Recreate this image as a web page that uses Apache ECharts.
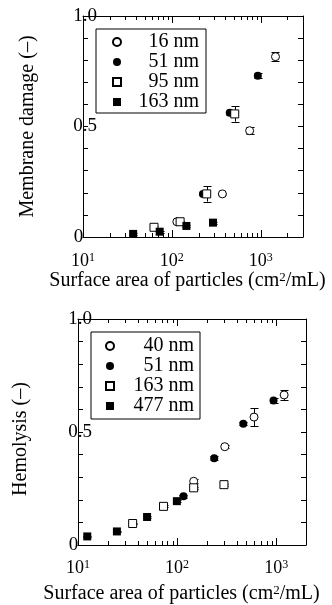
<!DOCTYPE html>
<html><head><meta charset="utf-8">
<script src="https://cdn.jsdelivr.net/npm/echarts@6/dist/echarts.min.js"></script>
<style>html,body{margin:0;padding:0;background:#fff}#c{width:332px;height:605px}</style>
</head><body><div id="c"></div>
<script>
// ---- Top panel: Membrane damage ----  [surface area, value, error]
const topNames = ['16 nm', '51 nm', '95 nm', '163 nm'];
const top16 = [[114, 0.069, 0.005], [371, 0.195, 0.006], [752, 0.481, 0.017], [1470, 0.816, 0.02]];
const top51 = [[224, 0.195, 0.006], [449, 0.562, 0.01], [930, 0.73, 0.01]];
const top95 = [[63, 0.044, 0.004], [124, 0.069, 0.005], [247, 0.195, 0.035], [511, 0.557, 0.035]];
const top163 = [[36.7, 0.014, 0.004], [73, 0.024, 0.004], [146, 0.05, 0.004], [291, 0.065, 0.004]];
// ---- Bottom panel: Hemolysis ----
const botNames = ['40 nm', '51 nm', '163 nm', '477 nm'];
const bot40 = [[147, 0.282, 0.008], [303, 0.435, 0.006], [598, 0.566, 0.04], [1203, 0.664, 0.022]];
const bot51 = [[116, 0.216, 0.006], [237, 0.384, 0.008], [466, 0.537, 0.008], [940, 0.639, 0.01]];
const bot163 = [[35.6, 0.095, 0.004], [73, 0.171, 0.004], [147, 0.253, 0.004], [297, 0.267, 0.004]];
const bot477 = [[12.4, 0.038, 0.004], [24.7, 0.06, 0.004], [49.8, 0.124, 0.004], [99.5, 0.194, 0.004]];
// axis ticks
const xTicksTop = [10, 20, 30, 40, 50, 60, 70, 80, 90, 100, 200, 300, 400, 500, 600, 700, 800, 900, 1000, 2000];
const xTicksBot = [10, 20, 30, 40, 50, 60, 70, 80, 90, 100, 200, 300, 400, 500, 600, 700, 800, 900, 1000];
const xRangeTop = [10, 3000];
const xRangeBot = [10, 2000];
const yRange = [0, 1];
const yLabelMap = [[0, '0'], [0.5, '0.5'], [1, '1.0']];

const FF = '"Liberation Serif", "Times New Roman", serif';
const BLK = '#000';
const ZW = '\u200b';

function xLabel(v) {
  const lg = Math.log10(v), r = Math.round(lg);
  if (Math.abs(lg - r) < 1e-6) return '{b|10}{s|' + r + '}';
  return '';
}
function yLabel(v) {
  for (const [val, txt] of yLabelMap) {
    if (Math.abs(v - val) < 1e-9) return val === 0 ? '{z|' + txt + '}' : '{b|' + txt + '}';
  }
  return '';
}
const px = v => Math.round(v) + 0.5;

function tickRender(params, api) {
  const v = api.value(0);
  const lg = Math.log10(v);
  const major = Math.abs(lg - Math.round(lg)) < 1e-6;
  const L = major ? 7 : 4;
  const b = api.coord([v, yRange[0]]);
  const t = api.coord([v, yRange[1]]);
  const x = px(b[0]);
  return {type: 'group', children: [
    {type: 'line', shape: {x1: x, y1: b[1], x2: x, y2: b[1] - L}, style: {stroke: BLK, lineWidth: 1}},
    {type: 'line', shape: {x1: x, y1: t[1], x2: x, y2: t[1] + L}, style: {stroke: BLK, lineWidth: 1}}
  ]};
}
function errRender(params, api) {
  const x = api.value(0), y = api.value(1), e = api.value(2);
  const a = api.coord([x, y + e]), b = api.coord([x, y - e]);
  const cx = px(a[0]), hw = 4;
  const st = {stroke: BLK, lineWidth: 1};
  return {type: 'group', children: [
    {type: 'line', shape: {x1: cx, y1: a[1], x2: cx, y2: b[1]}, style: st},
    {type: 'line', shape: {x1: cx - hw, y1: px(a[1]), x2: cx + hw, y2: px(a[1])}, style: st},
    {type: 'line', shape: {x1: cx - hw, y1: px(b[1]), x2: cx + hw, y2: px(b[1])}, style: st}
  ]};
}

const supRich = {
  b: {fontFamily: FF, fontSize: 18, color: BLK},
  s: {fontFamily: FF, fontSize: 12, color: BLK, verticalAlign: 'top'}
};
const nameRich = {
  s: {fontFamily: FF, fontSize: 13, color: BLK, verticalAlign: 'top'}
};

function xAxes(grid, range, labelMargin, nameGap, padRight) {
  return [
    {gridIndex: grid, type: 'log', logBase: 10, min: range[0], max: range[1], position: 'bottom',
     axisLine: {show: true, onZero: false, lineStyle: {color: BLK, width: 1}},
     axisTick: {show: false}, minorTick: {show: false}, splitLine: {show: false},
     axisLabel: {formatter: xLabel, margin: labelMargin, rich: supRich, fontFamily: FF, fontSize: 18, color: BLK, showMinLabel: true},
     name: 'Surface area of particles (cm{s|2}/mL)', nameLocation: 'middle', nameGap: nameGap,
     nameTextStyle: {fontFamily: FF, fontSize: 20, color: BLK, rich: nameRich, padding: [0, padRight, 0, 0]}},
    {gridIndex: grid, type: 'log', logBase: 10, min: range[0], max: range[1], position: 'top',
     axisLine: {show: true, onZero: false, lineStyle: {color: BLK, width: 1}},
     axisTick: {show: false}, axisLabel: {show: false}, splitLine: {show: false}}
  ];
}
function yAxes(grid, name, nameGap, namePad) {
  return [
    {gridIndex: grid, type: 'value', min: yRange[0], max: yRange[1], interval: 0.1, position: 'left',
     axisLine: {show: true, onZero: false, lineStyle: {color: BLK}},
     axisTick: {show: true, inside: true, length: 5, lineStyle: {color: BLK}},
     splitLine: {show: false},
     axisLabel: {formatter: yLabel, margin: -2, align: 'center', fontFamily: FF, fontSize: 19, color: BLK,
       rich: {b: {fontFamily: FF, fontSize: 19, color: BLK}, z: {fontFamily: FF, fontSize: 19, color: BLK, padding: [0, 13, 0, 0]}}},
     name: name, nameLocation: 'middle', nameGap: nameGap,
     nameTextStyle: {fontFamily: FF, fontSize: 20, color: BLK, padding: namePad}},
    {gridIndex: grid, type: 'value', min: yRange[0], max: yRange[1], interval: 0.1, position: 'right',
     axisLine: {show: true, onZero: false, lineStyle: {color: BLK}},
     axisTick: {show: true, inside: true, length: 5, lineStyle: {color: BLK}},
     splitLine: {show: false}, axisLabel: {show: false}}
  ];
}

const openStyle = {color: '#fff', borderColor: BLK, borderWidth: 1, opacity: 1};
const fillStyle = {color: BLK, borderColor: BLK, borderWidth: 0, opacity: 1};
const markers = [
  {symbol: 'circle', itemStyle: openStyle},
  {symbol: 'circle', itemStyle: fillStyle},
  {symbol: 'rect', itemStyle: openStyle},
  {symbol: 'rect', itemStyle: fillStyle}
];

function panelSeries(xi, yi, names, datas, ticks) {
  const s = [];
  s.push({type: 'custom', xAxisIndex: xi, yAxisIndex: yi, data: ticks.map(v => [v, 0]), renderItem: tickRender, silent: true, z: 1, clip: false});
  datas.forEach((d) => {
    s.push({type: 'custom', xAxisIndex: xi, yAxisIndex: yi, data: d, renderItem: errRender, silent: true, z: 2, clip: false});
  });
  datas.forEach((d, i) => {
    s.push({type: 'scatter', name: names[i], xAxisIndex: xi, yAxisIndex: yi, data: d.map(p => [p[0], p[1]]),
      symbol: markers[i].symbol, symbolSize: 8, itemStyle: markers[i].itemStyle, z: 3, clip: false});
  });
  return s;
}

const botNamesKey = botNames.map(n => n + ZW);

function legend(names, left, top, pad, textW) {
  return {
    left: left, top: top, orient: 'vertical', itemGap: 0, itemWidth: 8, itemHeight: 8,
    padding: pad, borderColor: BLK, borderWidth: 1, backgroundColor: '#fff',
    data: names, selectedMode: false,
    formatter: n => '{t|' + n.replace(ZW, '') + '}',
    textStyle: {fontFamily: FF, fontSize: 20, color: BLK,
      rich: {t: {fontFamily: FF, fontSize: 20, color: BLK, width: textW, align: 'right', lineHeight: 21}}}
  };
}

const chart = echarts.init(document.getElementById('c'), null, {renderer: 'canvas'});
chart.setOption({
  animation: false,
  backgroundColor: '#fff',
  grid: [
    {left: 83, top: 16, width: 220, height: 221},
    {left: 78, top: 319, width: 228, height: 228.5}
  ],
  xAxis: [...xAxes(0, xRangeTop, 15, 29, 11), ...xAxes(1, xRangeBot, 14, 39, 21)],
  yAxis: [...yAxes(0, 'Membrane damage (–)', 45, [0, 0, 0, 0]), ...yAxes(1, 'Hemolysis (–)', 47, [0, 14, 0, 0])],
  legend: [
    legend(topNames, 96, 29, [3, 7, 1, 16], 73),
    legend(botNamesKey, 91, 332, [4, 6, 3, 14], 75)
  ],
  series: [
    ...panelSeries(0, 0, topNames, [top16, top51, top95, top163], xTicksTop),
    ...panelSeries(2, 2, botNamesKey, [bot40, bot51, bot163, bot477], xTicksBot)
  ]
});
</script>
</body></html>
